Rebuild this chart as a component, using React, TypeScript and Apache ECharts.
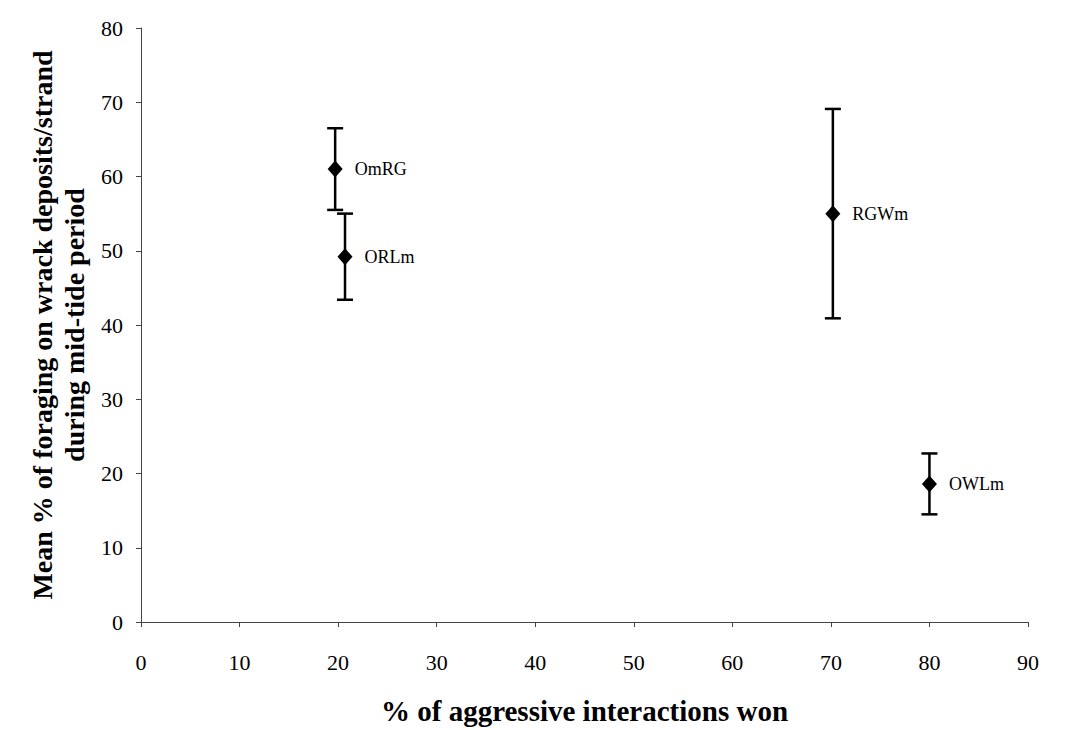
import React, { useEffect, useRef } from "react";
import * as echarts from "echarts";

const pointLabels = ["OmRG", "ORLm", "RGWm", "OWLm"];
const aggressiveWon = [19.7, 20.7, 70.2, 80];
const meanForaging = [61.0, 49.2, 55.0, 18.6];
const errorSize = [5.5, 5.8, 14.1, 4.1];

const xTicks = [0, 10, 20, 30, 40, 50, 60, 70, 80, 90];
const yTicks = [0, 10, 20, 30, 40, 50, 60, 70, 80];

const FONT = "'Liberation Serif', 'Times New Roman', serif";

export default function App() {
  const ref = useRef<HTMLDivElement>(null);

  useEffect(() => {
    if (!ref.current) return;
    const chart = echarts.init(ref.current, undefined, { renderer: "svg" });

    const scatterData = pointLabels.map((n, i) => ({
      name: n,
      value: [aggressiveWon[i], meanForaging[i]],
    }));
    const errData = pointLabels.map((n, i) => [aggressiveWon[i], meanForaging[i], errorSize[i]]);

    chart.setOption({
      animation: false,
      backgroundColor: "#ffffff",
      grid: { left: 141, right: 45, top: 28, bottom: 105, containLabel: false },
      xAxis: {
        type: "value",
        min: xTicks[0],
        max: xTicks[xTicks.length - 1],
        interval: 10,
        name: "% of aggressive interactions won",
        nameLocation: "middle",
        nameGap: 74,
        nameTextStyle: { fontFamily: FONT, fontWeight: "bold", fontSize: 29, color: "#000" },
        axisLine: { show: true, onZero: false, lineStyle: { color: "#444", width: 1 } },
        axisTick: { show: true, inside: false, length: 5, lineStyle: { color: "#444" } },
        axisLabel: { fontFamily: FONT, fontSize: 22, color: "#000", margin: 29 },
        splitLine: { show: false },
      },
      yAxis: {
        type: "value",
        min: yTicks[0],
        max: yTicks[yTicks.length - 1],
        interval: 10,
        name: "Mean % of foraging on wrack deposits/strand\nduring mid-tide period",
        nameLocation: "middle",
        nameGap: 51,
        nameRotate: 90,
        nameTextStyle: {
          fontFamily: FONT,
          fontWeight: "bold",
          fontSize: 28,
          color: "#000",
          lineHeight: 32,
          align: "center",
        },
        axisLine: { show: true, onZero: false, lineStyle: { color: "#444", width: 1 } },
        axisTick: { show: true, inside: false, length: 5, lineStyle: { color: "#444" } },
        axisLabel: { fontFamily: FONT, fontSize: 22, color: "#000", margin: 18 },
        splitLine: { show: false },
      },
      series: [
        {
          type: "custom",
          data: errData,
          renderItem: (params: any, api: any) => {
            const x = api.value(0);
            const y = api.value(1);
            const e = api.value(2);
            const top = api.coord([x, y + e]);
            const bot = api.coord([x, y - e]);
            const hw = 8;
            const st = { stroke: "#000", lineWidth: 2.5 };
            return {
              type: "group",
              children: [
                { type: "line", shape: { x1: top[0], y1: top[1], x2: bot[0], y2: bot[1] }, style: st },
                { type: "line", shape: { x1: top[0] - hw, y1: top[1], x2: top[0] + hw, y2: top[1] }, style: st },
                { type: "line", shape: { x1: bot[0] - hw, y1: bot[1], x2: bot[0] + hw, y2: bot[1] }, style: st },
              ],
            };
          },
          z: 2,
        },
        {
          type: "scatter",
          data: scatterData,
          symbol: "diamond",
          symbolSize: [15, 17],
          itemStyle: { color: "#000", opacity: 1 },
          label: {
            show: true,
            position: "right",
            distance: 12,
            formatter: (p: any) => p.name,
            fontFamily: FONT,
            fontSize: 18,
            color: "#000",
          },
          z: 3,
        },
      ],
    });

    return () => chart.dispose();
  }, []);

  return (
    <div
      ref={ref}
      style={{ position: "fixed", left: 0, top: 0, width: 1073, height: 730, background: "#fff" }}
    />
  );
}
